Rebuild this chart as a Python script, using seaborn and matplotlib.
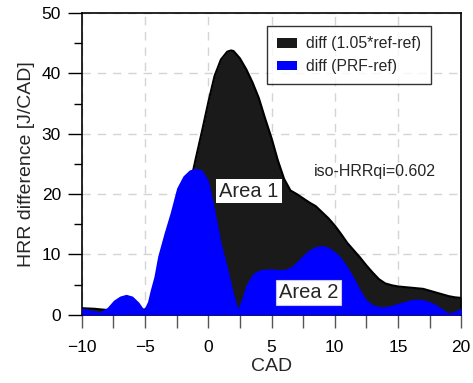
import matplotlib
matplotlib.use("Agg")
import matplotlib.pyplot as plt
import seaborn as sns
import pandas as pd
from matplotlib.ticker import MultipleLocator

# ---- data ----
cad_ref = [-10, -9.5, -9, -8.5, -8, -7.5, -7, -6.5, -6, -5.5, -5, -4.5, -4, -3.5, -3,
           -2.5, -2, -1.5, -1, -0.5, 0, 0.5, 1, 1.5, 1.8, 2, 2.5, 3, 3.5, 4, 4.5, 5,
           5.5, 6, 6.5, 7, 7.5, 8, 8.5, 9, 9.5, 10, 10.5, 11, 11.5, 12, 12.5, 13,
           13.5, 14, 14.5, 15, 15.5, 16, 16.5, 17, 17.5, 18, 18.5, 19, 19.5, 20]
diff_ref = [1.1, 1.05, 1.0, 0.9, 0.8, 0.7, 0.7, 0.7, 0.7, 0.8, 0.9, 1.5, 2.8, 4.8, 7.5,
            11.0, 15.5, 21.0, 25.8, 30.4, 35.2, 39.6, 42.3, 43.6, 43.8, 43.7, 42.5, 40.7,
            38.5, 35.9, 32.5, 29.3, 25.6, 22.5, 20.6, 20.0, 19.3, 18.6, 18.0, 17.0, 16.0,
            14.8, 13.4, 11.9, 10.7, 9.5, 8.2, 7.0, 5.9, 5.2, 4.9, 4.7, 4.6, 4.5, 4.4,
            4.3, 4.0, 3.7, 3.4, 3.1, 2.9, 2.8]

cad_prf = [-10, -9.5, -9, -8.6, -8, -7.5, -7, -6.5, -6, -5.5, -5.1, -4.8, -4.6, -4.3, -4,
           -3.5, -3, -2.5, -2, -1.5, -1, -0.5, 0, 0.5, 1, 1.5, 2, 2.35, 2.7, 3, 3.5, 4,
           4.5, 5, 5.5, 6, 6.5, 7, 7.5, 8, 8.5, 9, 9.5, 10, 10.5, 11, 11.5, 12, 12.5, 13,
           13.5, 14, 14.5, 15, 15.5, 16, 16.5, 17, 17.5, 18, 18.5, 19, 19.5, 20]
diff_prf = [1.1, 0.9, 0.7, 0.5, 1.2, 2.4, 3.1, 3.4, 3.1, 2.1, 0.9, 2.2, 4.0, 6.3, 9.7,
            13.5, 17.0, 21.0, 23.0, 24.0, 24.3, 24.0, 22.3, 17.5, 12.0, 8.0, 3.5, 1.0,
            3.0, 5.0, 6.8, 7.4, 7.6, 7.6, 7.5, 7.5, 7.9, 8.8, 9.9, 10.8, 11.3, 11.5, 11.2,
            10.5, 9.5, 8.0, 6.2, 4.2, 2.5, 1.7, 1.35, 1.35, 1.6, 1.9, 2.2, 2.5, 2.6, 2.5,
            2.2, 1.7, 1.0, 0.3, 0.6, 1.1]

label_ref = "diff (1.05*ref-ref)"
label_prf = "diff (PRF-ref)"
x_ticks = [-10, -5, 0, 5, 10, 15, 20]
y_ticks = [0, 10, 20, 30, 40, 50]

df_ref = pd.DataFrame({"CAD": cad_ref, "diff": diff_ref})
df_prf = pd.DataFrame({"CAD": cad_prf, "diff": diff_prf})

sns.set_theme(style="white")
plt.rcParams["font.family"] = ["Liberation Sans", "DejaVu Sans"]

fig = plt.figure(figsize=(4.73, 3.83), dpi=100)
ax = fig.add_axes([0.173, 0.178, 0.802, 0.788])

black = "#1a1a1a"
blue = "#0000ff"

ax.fill_between(df_ref["CAD"], 0, df_ref["diff"], color=black, label=label_ref, zorder=2, lw=0)
sns.lineplot(data=df_ref, x="CAD", y="diff", color="black", lw=1.5, ax=ax, zorder=3,
             estimator=None, sort=False, legend=False)
ax.fill_between(df_prf["CAD"], 0, df_prf["diff"], color=blue, label=label_prf, zorder=4, lw=0)

ax.set_xlim(-10, 20)
ax.set_ylim(0, 50)
ax.set_xticks(x_ticks)
ax.set_yticks(y_ticks)
ax.xaxis.set_minor_locator(MultipleLocator(2.5))
ax.yaxis.set_minor_locator(MultipleLocator(5))
ax.tick_params(axis="both", which="both", direction="out", colors="black",
               labelsize=12.5, bottom=True, left=True)
ax.tick_params(axis="x", which="major", length=9, width=1, pad=9, color="#555555")
ax.tick_params(axis="x", which="minor", length=9, width=1, color="#555555")
ax.tick_params(axis="y", which="major", length=10, width=1, pad=5)
ax.tick_params(axis="y", which="minor", length=6, width=1)

ax.grid(True, which="major", color="#d4d4d4", linestyle=(0, (6, 5)), lw=1)
ax.set_axisbelow(True)
for s in ax.spines.values():
    s.set_visible(True)
    s.set_color("black")
    s.set_linewidth(1.2)

ax.set_xlabel("CAD", fontsize=14, labelpad=2)
ax.set_ylabel("HRR difference [J/CAD]", fontsize=14, labelpad=5)

leg = ax.legend(loc="upper right", bbox_to_anchor=(0.942, 0.983), fontsize=11.3,
                frameon=True, fancybox=False, handlelength=1.25, handleheight=0.6,
                borderpad=0.65, labelspacing=0.5, handletextpad=0.6)
leg.get_frame().set_edgecolor("black")
leg.get_frame().set_linewidth(1)
leg.set_zorder(10)

ax.text(8.37, 23.7, "iso-HRRqi=0.602", fontsize=11.5, va="center", ha="left", zorder=6)
ax.text(3.22, 20.5, "Area 1", fontsize=14.5, va="center", ha="center", zorder=6,
        bbox=dict(facecolor="white", edgecolor="none", pad=2))
ax.text(7.92, 3.73, "Area 2", fontsize=14.5, va="center", ha="center", zorder=6,
        bbox=dict(facecolor="white", edgecolor="#c8c8ff", lw=0.8, pad=2))

fig.savefig("out.png", dpi=100)
